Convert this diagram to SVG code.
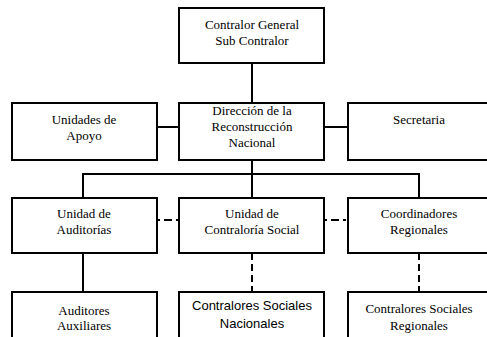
<svg xmlns="http://www.w3.org/2000/svg" width="487" height="337" viewBox="0 0 487 337">
<style>
.box{fill:#fff;stroke:#000;stroke-width:2}
.t{font-family:"Liberation Serif","Times New Roman",serif;font-size:13px;fill:#000;text-anchor:middle}
.s{font-family:"Liberation Sans",Arial,sans-serif;font-size:13px;fill:#000;text-anchor:middle}
.ln{stroke:#000;stroke-width:2;fill:none}
.dl{stroke:#000;stroke-width:2;fill:none;stroke-dasharray:7 4}
</style>
<rect width="487" height="337" fill="#fff"/>
<g id="connectors">
<line class="ln" x1="252" y1="63" x2="252" y2="103"/>
<line class="ln" x1="157" y1="127" x2="179" y2="127"/>
<line class="ln" x1="324" y1="127" x2="348" y2="127"/>
<line class="ln" x1="252" y1="160" x2="252" y2="198"/>
<polyline class="ln" points="83,198 83,174 419,174 419,198"/>
<line class="dl" x1="157" y1="220" x2="179" y2="220" style="stroke-dasharray:3 4 8 4"/>
<line class="dl" x1="324" y1="220" x2="348" y2="220" style="stroke-dasharray:3 4 8 4"/>
<line class="ln" x1="83" y1="253" x2="83" y2="292"/>
<line class="dl" x1="252" y1="253" x2="252" y2="292"/>
<line class="dl" x1="419" y1="253" x2="419" y2="292"/>
</g>
<g id="contralor">
<rect class="box" x="179" y="8" width="145" height="55"/>
<text class="t" x="252" y="29">Contralor General</text>
<text class="t" x="252" y="45">Sub Contralor</text>
</g>
<g id="unidades-apoyo">
<rect class="box" x="12" y="103" width="145" height="57"/>
<text class="t" x="84" y="124">Unidades de</text>
<text class="t" x="84" y="140">Apoyo</text>
</g>
<g id="direccion">
<rect class="box" x="179" y="103" width="145" height="57"/>
<text class="t" x="252" y="115">Dirección de la</text>
<text class="t" x="252" y="131">Reconstrucción</text>
<text class="t" x="252" y="147">Nacional</text>
</g>
<g id="secretaria">
<rect class="box" x="348" y="103" width="145" height="57"/>
<text class="t" x="419" y="124">Secretaria</text>
</g>
<g id="unidad-auditorias">
<rect class="box" x="12" y="198" width="145" height="55"/>
<text class="t" x="84" y="218">Unidad de</text>
<text class="t" x="84" y="234">Auditorías</text>
</g>
<g id="unidad-contraloria">
<rect class="box" x="179" y="198" width="145" height="55"/>
<text class="t" x="252" y="218">Unidad de</text>
<text class="t" x="252" y="234">Contraloría Social</text>
</g>
<g id="coordinadores">
<rect class="box" x="348" y="198" width="145" height="55"/>
<text class="t" x="419" y="218">Coordinadores</text>
<text class="t" x="419" y="234">Regionales</text>
</g>
<g id="auditores">
<rect class="box" x="12" y="292" width="145" height="60"/>
<text class="t" x="84" y="315">Auditores</text>
<text class="t" x="84" y="330">Auxiliares</text>
</g>
<g id="contralores-nacionales">
<rect class="box" x="179" y="292" width="145" height="60"/>
<text class="s" x="252" y="310">Contralores Sociales</text>
<text class="s" x="252" y="328">Nacionales</text>
</g>
<g id="contralores-regionales">
<rect class="box" x="348" y="292" width="145" height="60"/>
<text class="t" x="419" y="313">Contralores Sociales</text>
<text class="t" x="419" y="330">Regionales</text>
</g>
</svg>
